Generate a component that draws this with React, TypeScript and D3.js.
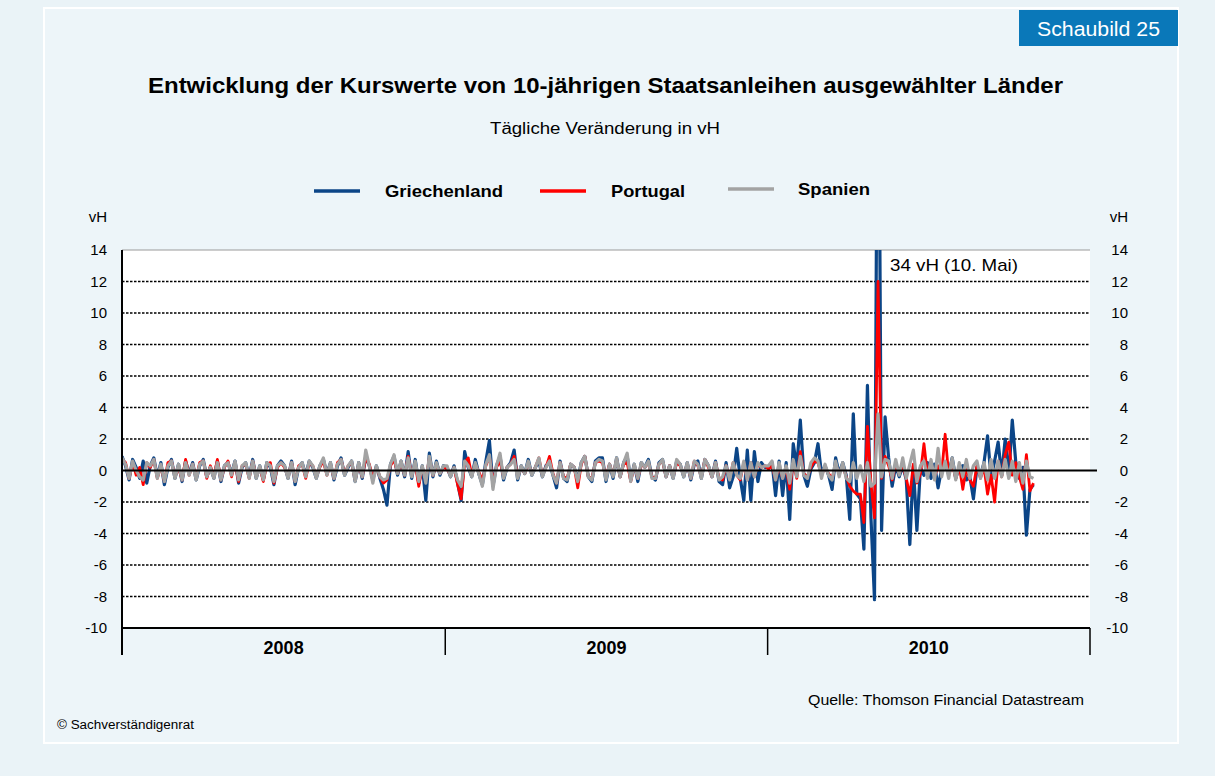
import React from 'react';
import * as d3 from 'd3';

// ---- data (daily change in %, sampled every 4 days from 2008-01-01) ----
const START = new Date(2008, 0, 1);
const STEP_DAYS = 4;

const yTicks = [14, 12, 10, 8, 6, 4, 2, 0, -2, -4, -6, -8, -10];
const years = ['2008', '2009', '2010'];
const seriesNames = ['Griechenland', 'Portugal', 'Spanien'];

const greece = [
  0.9, 0.3, -0.6, 0.7, 0.2, -0.5, 0.6, -0.8, 0.3, 0.8,
  -0.4, 0.5, -0.9, 0.2, 0.7, -0.5, 0.4, -0.7, 0.6, -0.2,
  0.5, -0.6, 0.3, 0.7, -0.4, 0.2, -0.5, 0.6, -0.7, 0.3,
  0.5, -0.2, 0.6, -0.8, 0.2, 0.5, -0.4, 0.7, -0.5, 0.3,
  -0.6, 0.5, 0.2, -0.9, 0.3, 0.6,
  0.3, -0.5, 0.6, -0.9, 0.2, 0.5, -0.3, 0.6, 0.2, -0.5,
  0.3, 0.7, -0.2, 0.5, -0.6, 0.3, 0.8, -0.3, 0.2, 0.6,
  -0.7, 0.5, -0.5, 0.9, 0.3,
  -0.6, 0.3, -0.5, -1.2, -2.2, 0.4, 0.9, -0.3, 0.6, -0.4,
  1.2, -0.5, 0.7, -0.8, 0.3, -1.9, 1.1, -0.4, 0.6, -0.3, 0.3,
  0.2, -0.4, 0.3, -0.8, -1.9, 1.2, 0.2, -0.4, 0.7, -0.2,
  -0.9, 0.6, 1.9, -1.0, 0.3, 0.9, -0.6, 0.2, 0.5, 1.3,
  -0.6, 0.3, -0.2, 0.7, -0.3, 0.2, 0.6, -0.4, 0.3, 0.5, -0.3,
  -1.1, 0.6, -0.5, -0.7, 0.4, 0.2, -0.6, 0.5, 0.9, -0.4,
  -0.7, 0.6, 0.8, 0.8, -0.7, 0.4, -0.5, 0.8, -0.4, 0.5,
  0.9, -0.6, 0.4, -0.7, 0.5, 0.2, 0.7, -0.4, -0.6, 0.5,
  0.7, -0.4, 0.3, -0.5, 0.6, 0.4, -0.4, 0.5,
  -0.6, 0.4, 0.6, -0.5, 0.7, 0.3, -0.4, 0.6, -0.7, -0.9,
  0.5, -1.1, -0.4, 1.4, -0.5, -1.9, 1.3, -1.9, 1.2, -0.7, 0.5, 0.2,
  0.2, 0.5, -1.6, 0.6, -1.6, 0.5, -3.1, 1.7, 0.2, 3.2,
  -0.3, -1.0, 0.1, 0.5, 1.7, -0.2, 0.3, -0.3, -1.2, 0.8,
  -0.2, 0.5, -0.3, -3.1, 3.6, -1.5, -1.8, -5.0, 5.4, -3.0,
  -8.2, 34, -3.8, 3.4,
  0.8, -1.0, 0.3, -0.4, 0.3, -0.6, -4.7, 0.3, -3.8, 0.2,
  -0.3, 0.5, -0.5, 0.4, -1.1, 0.1, 0.3, -0.2, 0.8, -0.5,
  0.2, 0.3, -0.6, -0.4, -1.8, 0.2, -0.3, 0.5, 2.2, -0.5,
  0.6, 1.8, -0.3, 2.0, -0.4, 3.2, 0.5, -0.5, 0.2, -4.1,
  -1.2, -0.9,
];

const portugal = [
  0.7, 0.5, -0.5, 0.5, -0.3, 0.2, -0.9, 0.5, 0.2, 0.7,
  -0.5, 0.3, -0.7, 0.5, 0.6, -0.4, 0.2, -0.6, 0.7, -0.3,
  0.4, -0.5, 0.5, 0.6, -0.5, 0.3, -0.4, 0.7, -0.6, 0.2,
  0.6, -0.4, 0.5, -0.7, 0.3, 0.4, -0.5, 0.6, -0.4, 0.2,
  -0.7, 0.4, 0.5, -0.8, 0.2, 0.5,
  0.2, -0.4, 0.5, -0.7, 0.3, 0.4, -0.5, 0.5, 0.3, -0.4,
  0.2, 0.6, -0.3, 0.4, -0.5, 0.5, 0.7, -0.2, 0.3, 0.5,
  -0.6, 0.4, -0.4, 0.8, 0.4,
  -0.5, 0.2, -0.4, -0.8, -0.6, 0.3, 0.7, -0.2, 0.5, -0.3,
  0.9, -0.3, 0.4, -1.0, 0.2, -0.6, 0.8, -0.3, 0.4, -0.2, 0.2,
  0.1, -0.3, 0.2, -0.9, -1.8, 0.5, 0.8, -0.3, 0.4, -0.1,
  -0.6, 0.3, 0.9, -0.7, 0.2, 0.6, -0.4, 0.2, 0.4, 0.9,
  -0.4, 0.2, -0.2, 0.5, -0.2, 0.2, 0.8, -0.3, 0.2, 0.9, -0.2,
  -0.8, 0.5, -0.4, -0.5, 0.4, 0.2, -1.1, 0.4, 0.9, -0.4,
  -0.5, 0.5, 0.6, 0.5, -0.4, 0.4, -0.3, 0.7, -0.4, 0.4,
  0.5, -0.7, 0.3, -0.5, 0.4, 0.2, 0.5, -0.4, -0.5, 0.4,
  0.6, -0.4, 0.3, -0.4, 0.5, 0.3, -0.3, 0.4,
  -0.5, 0.6, 0.3, -0.4, 0.7, 0.2, -0.4, 0.5, -0.5, -0.6,
  0.3, -0.5, 0.5, -0.3, -0.6, 0.5, -0.6, 0.5, -0.4, 0.4, 0.2, 0.3,
  0.1, 0.3, -0.6, 0.3, -0.5, 0.2, -1.2, 0.5, -0.5, 1.2,
  -0.2, -0.4, 0.2, 0.6, 0.5, -0.3, 0.2, -0.2, -0.5, 0.4,
  -0.2, 0.3, -0.4, -1.0, -1.3, -1.5, -1.5, -3.3, 2.8, -0.8,
  -3.0, 12, -0.5, 0.9,
  0.3, -0.6, 0.4, -0.2, 0.3, -0.5, -1.6, 0.4, -0.8, -0.2,
  1.7, -0.3, 0.5, -0.4, 0.3, -0.2, 2.3, -0.3, 0.4, -0.5,
  0.3, -1.2, 0.2, -0.6, -1.0, 0.3, -0.5, 0.2, -1.5, -0.3,
  -2.0, 0.6, -0.4, 1.0, 1.8, -0.3, 0.5, -0.4, -1.2, 1.0,
  -1.3, -0.8,
];

const spain = [
  0.8, 0.4, -0.5, 0.6, 0.0, -0.4, -0.6, 0.5, 0.3, 0.7,
  -0.5, 0.4, -0.7, 0.3, 0.6, -0.5, 0.4, -0.6, 0.5, -0.3,
  0.4, -0.6, 0.4, 0.6, -0.4, 0.2, -0.5, 0.5, -0.6, 0.3,
  0.5, -0.3, 0.6, -0.6, 0.3, 0.5, -0.5, 0.6, -0.5, 0.3,
  -0.6, 0.5, 0.3, -0.7, 0.3, 0.5,
  0.3, -0.5, 0.5, -0.7, 0.2, 0.5, -0.4, 0.6, 0.3, -0.5,
  0.3, 0.8, -0.3, 0.5, -0.5, 0.4, 0.7, -0.3, 0.3, 0.6,
  -0.7, 0.5, -0.4, 1.3, 0.3,
  -0.8, 0.3, -0.4, -0.6, -0.5, 0.4, 1.0, -0.2, 0.6, -0.3,
  0.8, -0.4, 0.6, -0.7, 0.3, -0.8, 0.9, -0.3, 0.5, -0.2, 0.3,
  0.3, -0.4, 0.2, -0.6, -1.0, 0.6, 0.3, -0.4, 0.5, -0.2,
  -1.0, 0.4, 1.0, -1.2, 0.3, 1.1, -0.5, 0.2, 0.4, 0.7,
  -0.5, 0.3, -0.2, 0.6, -0.3, 0.2, 0.8, -0.4, 0.2, 0.6, -0.3,
  -0.8, 0.5, -0.5, -0.6, 0.4, 0.2, -0.7, 0.5, 0.9, -0.4,
  -0.6, 0.5, 0.7, 0.6, -0.6, 0.4, -0.4, 0.8, -0.4, 0.5,
  1.1, -0.7, 0.4, -0.5, 0.5, 0.2, 0.6, -0.5, -0.5, 0.4,
  0.7, -0.4, 0.3, -0.5, 0.7, 0.4, -0.4, 0.5,
  -0.5, 0.6, 0.4, -0.5, 0.7, 0.3, -0.4, 0.5, -0.6, -0.4,
  0.3, -0.6, 0.5, -0.3, -0.5, 0.6, -0.6, 0.5, -0.4, 0.5, 0.2, 0.3,
  0.3, 0.6, -0.6, 0.5, -0.5, 0.3, -0.8, 0.7, -0.4, 0.9,
  -0.3, -0.5, 0.5, 0.8, 0.6, -0.5, 0.4, -0.3, -0.6, 0.6,
  -0.4, 0.5, -0.5, -0.7, 0.5, -0.5, 0.3, -0.7, 0.5, -1.0,
  -0.8, 3.6, -0.4, 0.7,
  0.6, -0.5, 0.7, -0.3, 0.8, -0.5, 0.4, 1.3, -0.7, 0.3,
  0.6, -0.5, 0.7, -0.6, 1.4, -0.4, 0.6, -0.5, 0.8, -0.6,
  0.5, -0.4, 0.7, -0.5, 0.3, 0.6, -0.5, 0.5, -0.6, 0.7,
  -0.5, 0.6, -0.4, 0.7, -0.5, 0.6, -0.7, 0.5, -0.8, 0.6,
  -0.4, -0.5,
];

const COLORS = ['#0b4587', '#ff0000', '#a3a3a3'];
const FONT = 'Arial, "Liberation Sans", Helvetica, sans-serif';

export default function App() {
  const W = 1215;
  const H = 776;
  const left = 122, right = 1090, top = 250, bottom = 628;

  const x = d3.scaleTime()
    .domain([new Date(2008, 0, 1), new Date(2011, 0, 1)])
    .range([left, right]);
  const y = d3.scaleLinear().domain([-10, 14]).range([bottom, top]);

  const dateAt = (i: number) => d3.timeDay.offset(START, i * STEP_DAYS);
  const line = d3.line<number>()
    .x((_, i) => x(dateAt(i)))
    .y((d) => y(d));

  const all = [greece, portugal, spain];
  const yearStarts = [2008, 2009, 2010, 2011].map((yr) => new Date(yr, 0, 1));

  const legendX = [314, 540, 728];
  const legendTextX = [385, 611, 798];
  const legendTextW = [118, 74, 72];
  const legendY = [191, 191, 189];

  return (
    <svg width={W} height={H} style={{ position: 'absolute', left: 0, top: 0 }} fontFamily={FONT}>
      <defs>
        <clipPath id="plotclip">
          <rect x={left} y={top} width={right - left} height={bottom - top} />
        </clipPath>
      </defs>
      <rect x={0} y={0} width={W} height={H} fill="#eaf3f7" />
      <rect x={44} y={8} width={1134} height={735} fill="#edf5f9" stroke="#ffffff" strokeWidth={2} />
      <rect x={1019} y={10} width={159} height={36} fill="#0a78b9" />
      <text x={1037} y={36} fill="#ffffff" fontSize={20} textLength={123} lengthAdjust="spacingAndGlyphs">Schaubild 25</text>

      <text x={148} y={93} fontSize={22} fontWeight="bold" fill="#000" textLength={915} lengthAdjust="spacingAndGlyphs">
        Entwicklung der Kurswerte von 10-jährigen Staatsanleihen ausgewählter Länder
      </text>
      <text x={490} y={134} fontSize={16} fill="#000" textLength={230} lengthAdjust="spacingAndGlyphs">Tägliche Veränderung in vH</text>

      {seriesNames.map((n, k) => (
        <g key={n}>
          <line x1={legendX[k]} x2={legendX[k] + 46} y1={legendY[k]} y2={legendY[k]} stroke={COLORS[k]} strokeWidth={3.5} />
          <text x={legendTextX[k]} y={legendY[k] + 6} fontSize={17} fontWeight="bold" fill="#000" textLength={legendTextW[k]} lengthAdjust="spacingAndGlyphs">{n}</text>
        </g>
      ))}

      <text x={107} y={222} fontSize={15} textAnchor="end" fill="#000">vH</text>
      <text x={1128} y={222} fontSize={15} textAnchor="end" fill="#000">vH</text>

      <rect x={left} y={top} width={right - left} height={bottom - top} fill="#ffffff" />
      <line x1={left} x2={right} y1={top} y2={top} stroke="#9a9a9a" strokeWidth={1} />

      {yTicks.filter((t) => t !== 0 && t !== -10 && t !== 14).map((t) => (
        <line key={'g' + t} x1={left} x2={right} y1={y(t)} y2={y(t)} stroke="#000" strokeWidth={1.6} strokeDasharray="2.5,1.5" />
      ))}

      {yTicks.map((t) => (
        <g key={'t' + t}>
          <text x={107} y={y(t) + 5} fontSize={15} textAnchor="end" fill="#000">{t}</text>
          <text x={1128} y={y(t) + 5} fontSize={15} textAnchor="end" fill="#000">{t}</text>
        </g>
      ))}

      <g clipPath="url(#plotclip)">
        {all.map((s, k) => (
          <path key={k} d={line(s) || ''} fill="none" stroke={COLORS[k]} strokeWidth={k === 1 ? 2.8 : 3.2} strokeLinejoin="round" />
        ))}
      </g>

      <line x1={left} x2={1097} y1={y(0)} y2={y(0)} stroke="#000" strokeWidth={2.2} />
      <line x1={left} x2={right} y1={bottom} y2={bottom} stroke="#000" strokeWidth={2} />
      <line x1={left} x2={left} y1={top} y2={655} stroke="#000" strokeWidth={2} />
      {yearStarts.slice(1).map((d, k) => (
        <line key={'yt' + k} x1={x(d)} x2={x(d)} y1={bottom} y2={655} stroke="#000" strokeWidth={1.5} />
      ))}
      {years.map((yr, k) => (
        <text key={yr} x={(x(yearStarts[k]) + x(yearStarts[k + 1])) / 2} y={654} fontSize={18} fontWeight="bold" textAnchor="middle" fill="#000">{yr}</text>
      ))}

      <text x={890} y={271} fontSize={17} fill="#000" textLength={128} lengthAdjust="spacingAndGlyphs">34 vH (10. Mai)</text>

      <text x={808} y={705} fontSize={15} fill="#000" textLength={276} lengthAdjust="spacingAndGlyphs">Quelle: Thomson Financial Datastream</text>
      <text x={57} y={729} fontSize={12} fill="#000" textLength={137} lengthAdjust="spacingAndGlyphs">© Sachverständigenrat</text>
    </svg>
  );
}
